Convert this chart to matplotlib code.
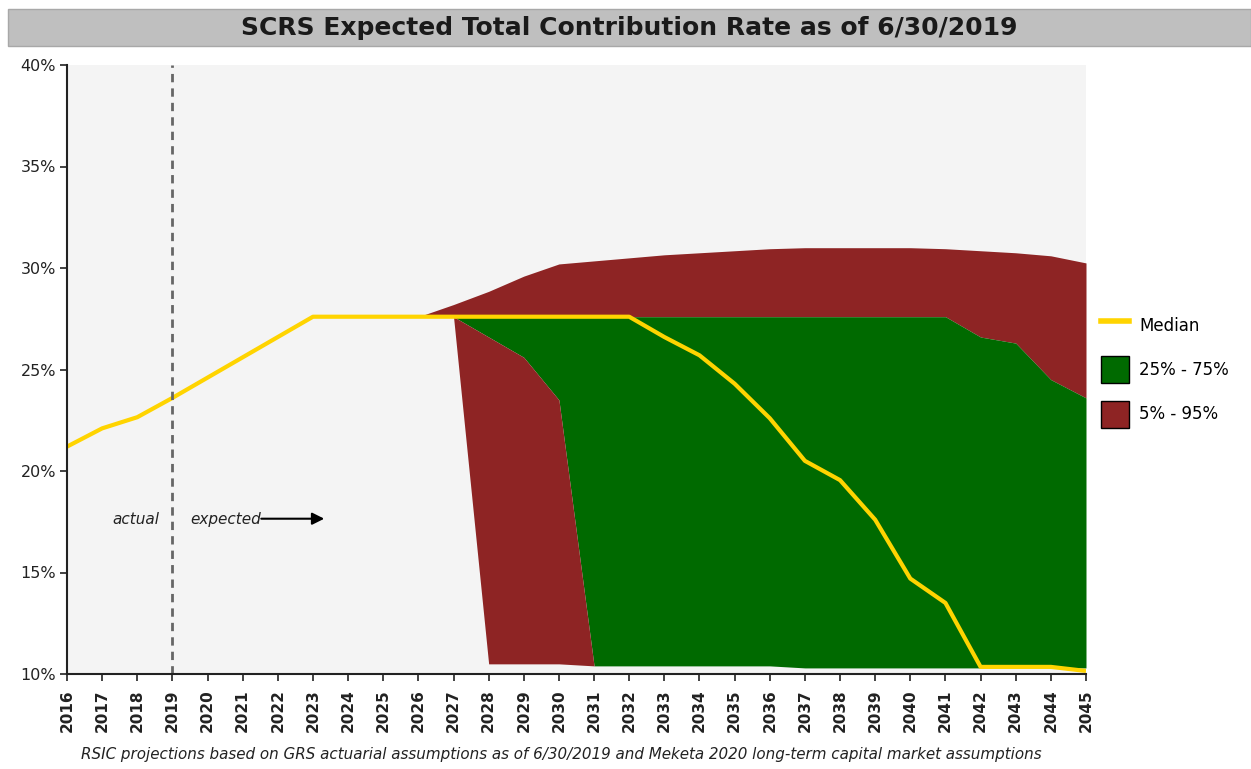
import numpy as np
import matplotlib.pyplot as plt
from matplotlib.patches import Patch, Rectangle
from matplotlib.lines import Line2D

nan = np.nan
years = list(range(2016, 2046))
median = [21.2, 22.1, 22.65, 23.6, 24.6, 25.6, 26.6, 27.6, 27.6, 27.6,
          27.6, 27.6, 27.6, 27.6, 27.6, 27.6, 27.6, 26.6, 25.7, 24.3,
          22.6, 20.5, 19.55, 17.6, 14.7, 13.5, 10.35, 10.35, 10.35, 10.15]
p95 = [nan, nan, nan, nan, nan, nan, nan, nan, nan, nan,
       27.6, 28.2, 28.85, 29.6, 30.2, 30.35, 30.5, 30.65, 30.75, 30.85,
       30.95, 31.0, 31.0, 31.0, 31.0, 30.95, 30.85, 30.75, 30.6, 30.25]
p75 = [nan, nan, nan, nan, nan, nan, nan, nan, nan, nan,
       nan, 27.6, 27.6, 27.6, 27.6, 27.6, 27.6, 27.6, 27.6, 27.6,
       27.6, 27.6, 27.6, 27.6, 27.6, 27.6, 26.6, 26.3, 24.5, 23.6]
p25 = [nan, nan, nan, nan, nan, nan, nan, nan, nan, nan,
       nan, 27.6, 26.6, 25.6, 23.5, 10.4, 10.4, 10.4, 10.4, 10.4,
       10.4, 10.3, 10.3, 10.3, 10.3, 10.3, 10.3, 10.3, 10.3, 10.3]
p5 = [nan, nan, nan, nan, nan, nan, nan, nan, nan, nan,
      nan, 27.6, 10.5, 10.5, 10.5, 10.4, 10.4, 10.4, 10.4, 10.4,
      10.4, 10.3, 10.3, 10.3, 10.3, 10.3, 10.3, 10.3, 10.3, 10.3]
# lower edge of the upper red band (starts at the median in 2026)
p75_upper_base = [nan] * 10 + [27.6] + p75[11:]

ytick_vals = [10, 15, 20, 25, 30, 35, 40]
ytick_labels = ['10%', '15%', '20%', '25%', '30%', '35%', '40%']

RED = '#8E2424'
GREEN = '#006A00'
YELLOW = '#FFD400'

yrs = np.array(years)
fig = plt.figure(figsize=(12.51, 7.69), dpi=100)
fig.patch.set_facecolor('white')

# title bar
fig.add_artist(Rectangle((8 / 1251, 1 - 46 / 769), 1 - 8 / 1251, 37 / 769, transform=fig.transFigure,
                         facecolor='#BFBFBF', edgecolor='#A8A8A8', lw=1))
fig.text(0.503, 1 - 28 / 769, 'SCRS Expected Total Contribution Rate as of 6/30/2019',
         ha='center', va='center', fontsize=18, fontweight='bold', color='#1A1A1A')

ax = fig.add_axes([67 / 1251, 1 - 674 / 769, (1086 - 67) / 1251, (674 - 65) / 769])
ax.set_facecolor('#F4F4F4')

ax.fill_between(yrs, np.array(p75_upper_base), np.array(p95), color=RED, lw=0)
ax.fill_between(yrs, np.array(p25), np.array(p75), color=GREEN, lw=0)
ax.fill_between(yrs, np.array(p5), np.array(p25), color=RED, lw=0)
ax.plot(yrs, median, color=YELLOW, lw=3, solid_capstyle='butt')

ax.axvline(2019, color='#666666', lw=2, ls=(0, (3, 2.2)))

ax.text(2018.62, 17.6, 'actual', style='italic', fontsize=11, ha='right', va='center', color='#222222')
ax.text(2019.5, 17.6, 'expected', style='italic', fontsize=11, ha='left', va='center', color='#222222')
ax.annotate('', xy=(2023.4, 17.65), xytext=(2021.45, 17.65),
            arrowprops=dict(arrowstyle='-|>', color='black', lw=1.5, mutation_scale=18))

ax.set_xlim(2016, 2045)
ax.set_ylim(10, 40)
ax.set_xticks(years)
ax.set_xticklabels([str(y) for y in years], rotation=90, fontsize=11, fontweight='bold', color='#222222')
ax.set_yticks(ytick_vals)
ax.set_yticklabels(ytick_labels, fontsize=11.5, color='#222222')
ax.tick_params(axis='both', direction='out', length=5, width=1.2, color='#222222')
ax.tick_params(axis='y', pad=3)
ax.tick_params(axis='x', pad=6)
for s in ['top', 'right']:
    ax.spines[s].set_visible(False)
for s in ['left', 'bottom']:
    ax.spines[s].set_linewidth(1.5)
    ax.spines[s].set_color('#222222')

handles = [Line2D([0], [0], color=YELLOW, lw=4),
           Patch(facecolor=GREEN, edgecolor='black', lw=1),
           Patch(facecolor=RED, edgecolor='black', lw=1)]
ax.legend(handles, ['Median', '25% - 75%', '5% - 95%'], loc='upper left',
          bbox_to_anchor=(1101 / 1251, 1 - 312 / 769), bbox_transform=fig.transFigure,
          frameon=False, fontsize=12, handlelength=1.7, handleheight=2.1,
          labelspacing=1.05, handletextpad=0.6, borderaxespad=0, borderpad=0)

fig.text(0.4485, 1 - 755 / 769,
         'RSIC projections based on GRS actuarial assumptions as of 6/30/2019 and Meketa 2020 long-term capital market assumptions',
         ha='center', va='center', fontsize=10.9, style='italic', color='#222222')

fig.savefig('out.png', dpi=100)
